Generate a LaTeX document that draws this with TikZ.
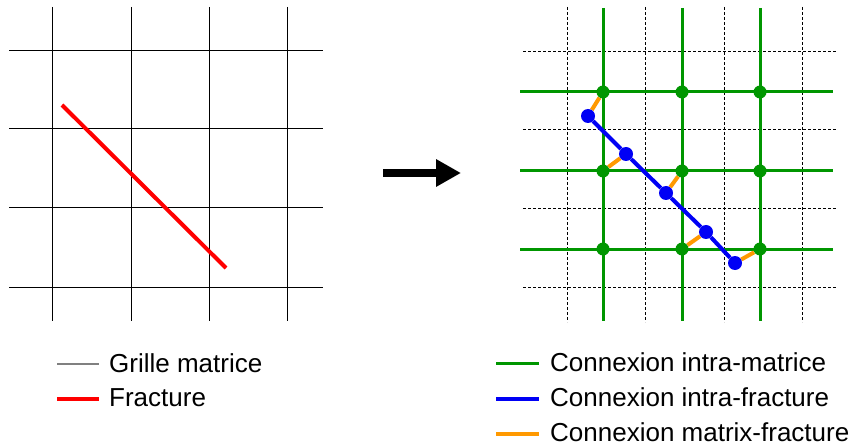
\documentclass[tikz,border=0pt]{standalone}
\usepackage{fontspec}
\setmainfont{Liberation Sans}
\usetikzlibrary{arrows.meta,backgrounds}
\definecolor{mgreen}{RGB}{0,150,0}
\definecolor{fblue}{RGB}{0,0,245}
\definecolor{mforange}{RGB}{255,153,0}
\definecolor{gridgray}{RGB}{128,128,128}
\begin{document}
\begin{tikzpicture}[x=1pt, y=-1pt,
    every node/.style={font=\fontsize{26}{30}\selectfont},
    gridline/.style={black, line width=1pt},
    dashgrid/.style={black, line width=0.8pt, dash pattern=on 3pt off 2pt},
    intram/.style={mgreen, line width=3pt},
    intraf/.style={fblue, line width=4pt},
    mf/.style={mforange, line width=4pt},
    mnode/.style={circle, fill=mgreen, inner sep=0pt, minimum size=13pt},
    fnode/.style={circle, fill=fblue, inner sep=0pt, minimum size=14pt},
    lbl/.style={anchor=west, inner sep=0pt}]
  \useasboundingbox (0,0) rectangle (853,446);
  % left: matrix grid with the fracture
  \foreach \x in {52,131,209,287} \draw[gridline] (\x,7) -- (\x,321);
  \foreach \y in {51,129,208,287} \draw[gridline] (9,\y) -- (323,\y);
  \coordinate (fa) at (62,105); \coordinate (fb) at (226,268);
  \draw[red, line width=4pt] (fa) -- (fb);
  % arrow
  \coordinate (ar1) at (383,173); \coordinate (ar2) at (461,173);
  \draw[line width=8pt, -{Triangle[length=25pt, width=26pt]}] (ar1) -- (ar2);
  % right: nodes
  \foreach \x [count=\i] in {603,682,760}
    \foreach \y [count=\j] in {92,171,249}
      \node[mnode] (m\j\i) at (\x,\y) {};
  \node[fnode] (f1) at (588,116) {};
  \node[fnode] (f2) at (626,154) {};
  \node[fnode] (f3) at (666,193) {};
  \node[fnode] (f4) at (706,232) {};
  \node[fnode] (f5) at (735,263) {};
  \begin{scope}[on background layer]
    \foreach \x in {567,645,724,802} \draw[dashgrid] (\x,7) -- (\x,322);
    \foreach \y in {51,129,208,287} \draw[dashgrid] (523,\y) -- (837,\y);
    \foreach \x in {603,682,760} \draw[intram] (\x,8) -- (\x,321);
    \foreach \y in {92,171,249} \draw[intram] (520,\y) -- (833,\y);
    \draw[mf] (f1) -- (m11);
    \draw[mf] (f2) -- (m21);
    \draw[mf] (f3) -- (m22);
    \draw[mf] (f4) -- (m32);
    \draw[mf] (f5) -- (m33);
    \draw[intraf] (f1) -- (f2) -- (f3) -- (f4) -- (f5);
  \end{scope}
  % legends
  \node[lbl] (lg1) at (109,363) {Grille matrice};
  \node[lbl] (lg2) at (109,398) {Fracture};
  \coordinate (lc1) at (57,364); \coordinate (lc2) at (57,399);
  \draw[gridgray, line width=1.5pt] (lc1) -- ([xshift=-10pt]lg1.west |- lc1);
  \draw[red, line width=4pt] (lc2) -- ([xshift=-10pt]lg2.west |- lc2);
  \node[lbl] (rg1) at (550,362) {Connexion intra-matrice};
  \node[lbl] (rg2) at (550,397) {Connexion intra-fracture};
  \node[lbl] (rg3) at (550,432) {Connexion matrix-fracture};
  \coordinate (rc1) at (496,363); \coordinate (rc2) at (496,399);
  \coordinate (rc3) at (496,434);
  \draw[mgreen, line width=3pt] (rc1) -- ([xshift=-11pt]rg1.west |- rc1);
  \draw[fblue, line width=4pt] (rc2) -- ([xshift=-11pt]rg2.west |- rc2);
  \draw[mforange, line width=4pt] (rc3) -- ([xshift=-11pt]rg3.west |- rc3);
\end{tikzpicture}
\end{document}
